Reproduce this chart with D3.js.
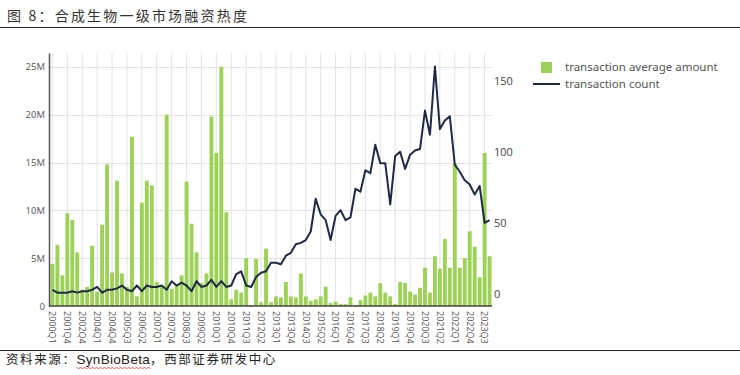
<!DOCTYPE html>
<html>
<head>
<meta charset="utf-8">
<script src="https://cdn.jsdelivr.net/npm/d3@7"></script>
<style>
  body { margin: 0; background: #fff; }
  text { font-family: "Noto Sans", "DejaVu Sans", sans-serif; }
  .cjk { font-family: "Noto Sans CJK SC", sans-serif; }
</style>
</head>
<body>
<div id="chart"></div>
<script>
// quarters shown on the x axis (early years have gaps)
var quarters = [
  "2000Q1","2000Q3","2001Q2","2001Q4","2002Q1","2002Q3","2002Q4","2003Q2","2003Q3",
  "2004Q1","2004Q2","2004Q3","2004Q4","2005Q1","2005Q2","2005Q3","2005Q4",
  "2006Q1","2006Q2","2006Q3","2006Q4","2007Q1","2007Q2","2007Q3","2007Q4",
  "2008Q1","2008Q2","2008Q3","2008Q4","2009Q1","2009Q2","2009Q3","2009Q4",
  "2010Q1","2010Q2","2010Q3","2010Q4","2011Q1","2011Q2","2011Q3","2011Q4",
  "2012Q1","2012Q2","2012Q3","2012Q4","2013Q1","2013Q2","2013Q3","2013Q4",
  "2014Q1","2014Q2","2014Q3","2014Q4","2015Q1","2015Q2","2015Q3","2015Q4",
  "2016Q1","2016Q2","2016Q3","2016Q4","2017Q1","2017Q2","2017Q3","2017Q4",
  "2018Q1","2018Q2","2018Q3","2018Q4","2019Q1","2019Q2","2019Q3","2019Q4",
  "2020Q1","2020Q2","2020Q3","2020Q4","2021Q1","2021Q2","2021Q3","2021Q4",
  "2022Q1","2022Q2","2022Q3","2022Q4","2023Q1","2023Q2","2023Q3","2023Q4"
];

// transaction average amount, in millions
var avgAmount = [
  4.4, 6.4, 3.2, 9.7, 9.0, 5.6, 1.7, 2.0, 6.3, 1.5,
  8.5, 14.8, 3.5, 13.1, 3.4, 2.0, 17.7, 1.0, 10.8, 13.1,
  12.6, 2.5, 2.1, 20.0, 1.8, 2.2, 3.2, 13.0, 8.6, 5.6,
  2.4, 3.4, 19.8, 16.0, 25.0, 9.8, 0.7, 1.7, 1.4, 5.0,
  0.1, 4.9, 0.4, 6.0, 0.4, 1.0, 0.9, 2.5, 1.0, 0.9,
  3.4, 1.0, 0.55, 0.7, 1.0, 2.0, 0.3, 0.45, 0.2, 0.2,
  0.9, 0.1, 0.6, 1.1, 1.4, 1.0, 2.4, 1.4, 1.0, 0.2,
  2.5, 2.4, 1.5, 1.2, 1.9, 4.0, 1.4, 5.2, 3.9, 7.0,
  4.0, 14.9, 4.0, 5.0, 7.8, 6.2, 3.0, 16.0, 5.2
];

// transaction count
var txCount = [
  3, 1, 1, 1, 2, 1, 2, 2, 3, 5,
  1, 3, 3, 4, 6, 3, 2, 6, 2, 6,
  5, 5, 6, 3, 9, 6, 8, 6, 2, 9,
  5, 6, 10, 5, 9, 5, 6, 14, 16, 6,
  5, 12, 15, 16, 22, 22, 21, 27, 29, 35,
  36, 38, 44, 67, 56, 52, 38, 55, 59, 52,
  54, 74, 72, 87, 85, 105, 92, 92, 63, 97,
  100, 88, 98, 101, 102, 129, 112, 160, 116, 122,
  125, 91, 86, 80, 77, 70, 76, 50, 52
];

var leftTicks = [0, 5, 10, 15, 20, 25];
var rightTicks = [0, 50, 100, 150];
var seriesNames = ["transaction average amount", "transaction count"];

var svgWidth = 740;
var svgHeight = 375;
var plot = { left: 50, right: 492, top: 53, bottom: 306 };

var green = "#9dd157";
var navy = "#1e2a45";

var svg = d3.select("#chart")
  .append("svg")
  .attr("width", svgWidth)
  .attr("height", svgHeight);

// title + rules
svg.append("text")
  .attr("class", "cjk")
  .attr("x", 7)
  .attr("y", 21)
  .style("font-size", "14px")
  .style("letter-spacing", "2.2px")
  .style("fill", "#333")
  .text("图 8：合成生物一级市场融资热度");

svg.append("line")
  .attr("x1", 0).attr("x2", 740)
  .attr("y1", 27.5).attr("y2", 27.5)
  .attr("stroke", "#222").attr("stroke-width", 1);

svg.append("line")
  .attr("x1", 0).attr("x2", 740)
  .attr("y1", 350.5).attr("y2", 350.5)
  .attr("stroke", "#222").attr("stroke-width", 1);

var src = svg.append("text")
  .attr("class", "cjk")
  .attr("x", 6)
  .attr("y", 364)
  .style("font-size", "12.5px")
  .style("letter-spacing", "1.6px")
  .style("fill", "#222");
src.append("tspan").text("资料来源：");
var syn = src.append("tspan")
  .style("font-family", "Arial, 'Liberation Sans', sans-serif")
  .style("font-size", "13.5px")
  .style("letter-spacing", "0.3px")
  .text("SynBioBeta");
src.append("tspan").text("，西部证券研发中心");

// red spell-check squiggle under SynBioBeta
var synStart = syn.node().getStartPositionOfChar(0).x;
var synEnd = syn.node().getEndPositionOfChar(9).x;
var zig = "M" + synStart + ",367";
for (var zx = synStart, k = 0; zx < synEnd; zx += 2, k++) {
  zig += "L" + (zx + 2) + "," + (k % 2 === 0 ? 369 : 367);
}
svg.append("path")
  .attr("d", zig)
  .attr("fill", "none")
  .attr("stroke", "#d33")
  .attr("stroke-width", 0.8);

// scales
var x = d3.scaleBand()
  .domain(quarters)
  .range([plot.left, plot.right])
  .paddingInner(0.22)
  .paddingOuter(0.1);

var yLeft = d3.scaleLinear()
  .domain([0, 26.45])
  .range([plot.bottom, plot.top]);

var yRight = d3.scaleLinear()
  .domain([-8.4, 169.5])
  .range([plot.bottom, plot.top]);

var g = svg.append("g");

// horizontal grid
g.selectAll("line.hgrid")
  .data(leftTicks.filter(d => d > 0))
  .enter()
  .append("line")
  .attr("x1", plot.left).attr("x2", plot.right)
  .attr("y1", d => Math.round(yLeft(d)) + 0.5)
  .attr("y2", d => Math.round(yLeft(d)) + 0.5)
  .attr("stroke", "#e3e3e3");

// vertical grid at labelled quarters
var labelled = quarters.filter((q, i) => i % 3 === 0);
g.selectAll("line.vgrid")
  .data(labelled)
  .enter()
  .append("line")
  .attr("x1", d => x(d) + x.bandwidth() / 2)
  .attr("x2", d => x(d) + x.bandwidth() / 2)
  .attr("y1", plot.top).attr("y2", plot.bottom)
  .attr("stroke", "#e3e3e3");

// bars
g.selectAll("rect.bar")
  .data(avgAmount)
  .enter()
  .append("rect")
  .attr("x", (d, i) => x(quarters[i]))
  .attr("width", x.bandwidth())
  .attr("y", d => yLeft(d))
  .attr("height", d => yLeft(0) - yLeft(d))
  .attr("fill", green);

// line
var line = d3.line()
  .x((d, i) => x(quarters[i]) + x.bandwidth() / 2)
  .y(d => yRight(d));

g.append("path")
  .datum(txCount)
  .attr("d", line)
  .attr("fill", "none")
  .attr("stroke", navy)
  .attr("stroke-width", 2)
  .attr("stroke-linejoin", "round");

// axes
var leftAxis = d3.axisLeft(yLeft)
  .tickValues(leftTicks)
  .tickSize(0)
  .tickPadding(4)
  .tickFormat(d => d === 0 ? "0" : d + "M");

var axL = svg.append("g")
  .attr("transform", `translate(${plot.left - 1}, 0)`)
  .call(leftAxis);
axL.select(".domain").attr("stroke", "#555").attr("stroke-width", 1.5);
axL.selectAll("text").style("font-size", "9.5px").style("fill", "#555")
  .style("font-family", "'Open Sans', sans-serif");

var rightAxis = d3.axisRight(yRight)
  .tickValues(rightTicks)
  .tickSize(0)
  .tickPadding(2);

var axR = svg.append("g")
  .attr("transform", `translate(${plot.right}, 0)`)
  .call(rightAxis);
axR.select(".domain").remove();
axR.selectAll("text").style("font-size", "11px").style("fill", "#444")
  .style("font-family", "'Open Sans', sans-serif");

var bottomAxis = d3.axisBottom(x)
  .tickValues(labelled)
  .tickSize(0)
  .tickPadding(0);

var axB = svg.append("g")
  .attr("transform", `translate(0, ${plot.bottom})`)
  .call(bottomAxis);
axB.select(".domain").attr("stroke", "#444").attr("stroke-width", 1.5)
  .attr("d", `M${plot.left - 1},0H${plot.right}`);
axB.selectAll("text")
  .attr("transform", "rotate(90)")
  .attr("x", 5)
  .attr("y", 0)
  .attr("dy", "0.35em")
  .style("text-anchor", "start")
  .style("font-size", "9px")
  .style("fill", "#555")
  .style("font-family", "'Open Sans', sans-serif");

// legend
var legend = svg.append("g");
legend.append("rect")
  .attr("x", 541).attr("y", 62)
  .attr("width", 11).attr("height", 11)
  .attr("fill", green);
legend.append("line")
  .attr("x1", 533).attr("x2", 560)
  .attr("y1", 84).attr("y2", 84)
  .attr("stroke", navy).attr("stroke-width", 2);
legend.selectAll("text.leg")
  .data(seriesNames)
  .enter()
  .append("text")
  .attr("x", 565)
  .attr("y", (d, i) => 71 + i * 17)
  .style("font-size", "11.5px")
  .style("fill", "#555")
  .text(d => d);
</script>
</body>
</html>
